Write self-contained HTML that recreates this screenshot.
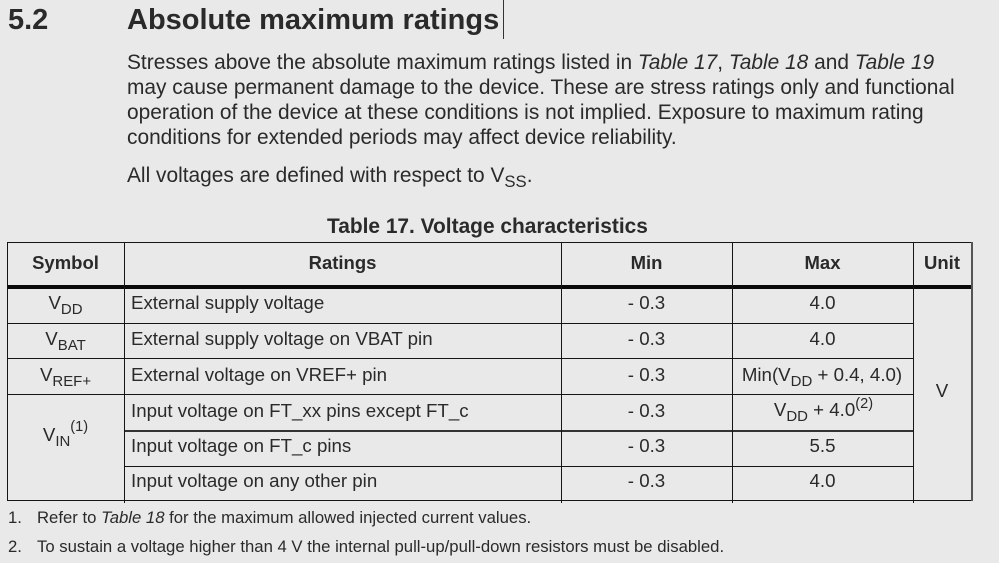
<!DOCTYPE html>
<html><head><meta charset="utf-8"><style>
html,body{margin:0;padding:0;}
body{width:999px;height:563px;background:#e9e9e9;position:relative;overflow:hidden;font-family:"Liberation Sans",Arial,sans-serif;color:#2a2a2a;}
.a{position:absolute;white-space:nowrap;line-height:1;}
.h{position:absolute;background:#151515;height:1px;}
.v{position:absolute;background:#151515;width:1px;}
.b{font-weight:bold;}
.c{text-align:center;}
.sb{position:relative;top:5px;font-size:0.8em;}
.sp{position:relative;top:-8px;font-size:0.78em;}
.p{font-size:20.9px;left:127px;}
.t{font-size:18.7px;}
.f{font-size:16.7px;}
</style></head><body>

<div class="a b" style="font-size:29px;left:8px;top:5.5px;">5.2</div>
<div class="a b" style="font-size:29px;left:127px;top:5.5px;">Absolute maximum ratings</div>
<div style="position:absolute;left:503px;top:0px;width:1px;height:39px;background:#333;"></div>

<div class="a p" style="top:53.3px;">Stresses above the absolute maximum ratings listed in <i>Table 17</i>, <i>Table 18</i> and <i>Table 19</i></div>
<div class="a p" style="top:78.3px;">may cause permanent damage to the device. These are stress ratings only and functional</div>
<div class="a p" style="top:103.3px;">operation of the device at these conditions is not implied. Exposure to maximum rating</div>
<div class="a p" style="top:128.3px;">conditions for extended periods may affect device reliability.</div>
<div class="a p" style="top:166.3px;">All voltages are defined with respect to V<span class="sb">SS</span>.</div>

<div class="a b" style="font-size:20.9px;left:327px;top:217.3px;">Table 17. Voltage characteristics</div>

<!-- table lines -->
<div class="h" style="left:7px;top:242px;width:965px;"></div>
<div class="h" style="left:7px;top:285px;width:966px;height:4px;background:#0a0a0a;"></div>
<div class="h" style="left:7px;top:323px;width:906px;"></div>
<div class="h" style="left:7px;top:358px;width:906px;"></div>
<div class="h" style="left:7px;top:394px;width:906px;"></div>
<div class="h" style="left:124px;top:430px;width:789px;height:2px;background:#333;"></div>
<div class="h" style="left:124px;top:466px;width:789px;"></div>
<div class="h" style="left:7px;top:500px;width:966px;"></div>
<div class="v" style="left:7px;top:242px;height:259px;"></div>
<div class="v" style="left:124px;top:242px;height:261px;"></div>
<div class="v" style="left:561px;top:242px;height:261px;"></div>
<div class="v" style="left:732px;top:242px;height:261px;"></div>
<div class="v" style="left:913px;top:242px;height:261px;"></div>
<div class="v" style="left:971px;top:242px;height:259px;width:2px;background:#555;"></div>

<!-- header -->
<div class="a b c" style="font-size:18.5px;left:7px;width:117px;top:254.3px;">Symbol</div>
<div class="a b c" style="font-size:18.5px;left:124px;width:437px;top:254.3px;">Ratings</div>
<div class="a b c" style="font-size:18.5px;left:561px;width:171px;top:254.3px;">Min</div>
<div class="a b c" style="font-size:18.5px;left:732px;width:181px;top:254.3px;">Max</div>
<div class="a b c" style="font-size:18.5px;left:913px;width:58px;top:254.3px;">Unit</div>

<!-- symbols -->
<div class="a t c" style="left:7px;width:117px;top:294.2px;">V<span class="sb">DD</span></div>
<div class="a t c" style="left:7px;width:117px;top:330.2px;">V<span class="sb">BAT</span></div>
<div class="a t c" style="left:7px;width:117px;top:366.2px;">V<span class="sb">REF+</span></div>
<div class="a t c" style="left:7px;width:117px;top:426.2px;">V<span class="sb">IN</span><span class="sp" style="top:-10px;">(1)</span></div>

<!-- ratings -->
<div class="a t" style="left:131px;top:294.2px;">External supply voltage</div>
<div class="a t" style="left:131px;top:330.2px;">External supply voltage on VBAT pin</div>
<div class="a t" style="left:131px;top:366.2px;">External voltage on VREF+ pin</div>
<div class="a t" style="left:131px;top:402.2px;">Input voltage on FT_xx pins except FT_c</div>
<div class="a t" style="left:131px;top:437.2px;">Input voltage on FT_c pins</div>
<div class="a t" style="left:131px;top:472.2px;">Input voltage on any other pin</div>

<!-- min -->
<div class="a t c" style="left:561px;width:171px;top:294.2px;">- 0.3</div>
<div class="a t c" style="left:561px;width:171px;top:330.2px;">- 0.3</div>
<div class="a t c" style="left:561px;width:171px;top:366.2px;">- 0.3</div>
<div class="a t c" style="left:561px;width:171px;top:402.2px;">- 0.3</div>
<div class="a t c" style="left:561px;width:171px;top:437.2px;">- 0.3</div>
<div class="a t c" style="left:561px;width:171px;top:472.2px;">- 0.3</div>

<!-- max -->
<div class="a t c" style="left:732px;width:181px;top:294.2px;">4.0</div>
<div class="a t c" style="left:732px;width:181px;top:330.2px;">4.0</div>
<div class="a t c" style="left:732px;width:180px;top:366.2px;">Min(V<span class="sb">DD</span> + 0.4, 4.0)</div>
<div class="a t c" style="left:732px;width:183px;top:401.2px;">V<span class="sb">DD</span> + 4.0<span class="sp">(2)</span></div>
<div class="a t c" style="left:732px;width:181px;top:437.2px;">5.5</div>
<div class="a t c" style="left:732px;width:181px;top:472.2px;">4.0</div>

<!-- unit -->
<div class="a t c" style="left:913px;width:58px;top:382.2px;">V</div>

<!-- footnotes -->
<div class="a f" style="left:8px;top:510px;">1.</div>
<div class="a f" style="left:37px;top:510px;">Refer to <i>Table 18</i> for the maximum allowed injected current values.</div>
<div class="a f" style="left:8px;top:539px;">2.</div>
<div class="a f" style="left:37px;top:539px;">To sustain a voltage higher than 4 V the internal pull-up/pull-down resistors must be disabled.</div>

</body></html>
